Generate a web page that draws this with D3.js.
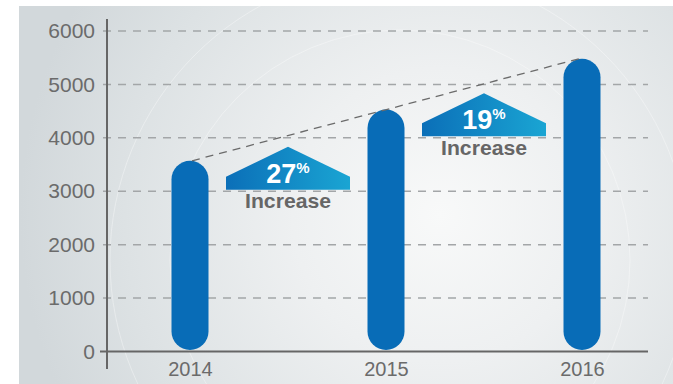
<!DOCTYPE html>
<html>
<head>
<meta charset="utf-8">
<script src="https://cdn.jsdelivr.net/npm/d3@7"></script>
<style>
  html, body { margin: 0; padding: 0; background: #fff; }
  svg { display: block; }
</style>
</head>
<body>
<div id="chart"></div>
<script>
// data
const years = ["2014", "2015", "2016"];
const values = [3570, 4530, 5480];
const yTicks = [0, 1000, 2000, 3000, 4000, 5000, 6000];
const increaseLabels = ["27", "19"];
const increaseBase = [3000, 4000];

const width = 673;
const height = 384;

const svg = d3.select("#chart")
    .append("svg")
    .attr("width", width)
    .attr("height", height);

const defs = svg.append("defs");

// background gradient
const bg = defs.append("radialGradient")
    .attr("id", "bg")
    .attr("gradientUnits", "userSpaceOnUse")
    .attr("cx", 440).attr("cy", 215).attr("r", 420);
bg.append("stop").attr("offset", 0).attr("stop-color", "#f8f9f9");
bg.append("stop").attr("offset", 0.35).attr("stop-color", "#eef0f1");
bg.append("stop").attr("offset", 0.75).attr("stop-color", "#dde2e4");
bg.append("stop").attr("offset", 1).attr("stop-color", "#d2d8db");

const arrowGrad = defs.append("linearGradient")
    .attr("id", "arrowGrad")
    .attr("x1", 0).attr("y1", 0).attr("x2", 1).attr("y2", 0);
arrowGrad.append("stop").attr("offset", 0).attr("stop-color", "#0b6fb8");
arrowGrad.append("stop").attr("offset", 1).attr("stop-color", "#1aa5d3");

svg.append("rect")
    .attr("x", 19).attr("y", 6)
    .attr("width", width - 19).attr("height", height - 6)
    .attr("fill", "url(#bg)");

// faint arcs in the background
svg.append("g")
    .attr("fill", "none")
    .attr("stroke", "#ffffff")
    .attr("stroke-opacity", 0.35)
    .selectAll("circle")
    .data([230, 290])
    .enter().append("circle")
    .attr("cx", 400).attr("cy", 260)
    .attr("r", d => d);

// scales
const x = d3.scalePoint()
    .domain(years)
    .range([190, 582]);

const y = d3.scaleLinear()
    .domain([0, 6000])
    .range([351.5, 31]);

// grid lines
svg.append("g")
    .selectAll("line")
    .data(yTicks.filter(d => d > 0))
    .enter().append("line")
    .attr("x1", 103)
    .attr("x2", 648)
    .attr("y1", d => y(d))
    .attr("y2", d => y(d))
    .attr("stroke", "#a3a6a8")
    .attr("stroke-width", 1.5)
    .attr("stroke-dasharray", "8,7");

// y axis labels
const yAxis = svg.append("g")
    .attr("transform", "translate(107,0)")
    .call(d3.axisLeft(y).tickValues(yTicks).tickFormat(d3.format("d")).tickSize(0).tickPadding(12));
yAxis.select(".domain").remove();
yAxis.selectAll("text")
    .attr("font-family", "Liberation Sans, Arial, sans-serif")
    .attr("font-size", 21)
    .attr("fill", "#6b6b6b");

// x axis labels
const xAxis = svg.append("g")
    .attr("transform", "translate(0,352)")
    .call(d3.axisBottom(x).tickSize(0).tickPadding(10));
xAxis.select(".domain").remove();
xAxis.selectAll("text")
    .attr("font-family", "Liberation Sans, Arial, sans-serif")
    .attr("font-size", 20)
    .attr("fill", "#6b6b6b");

// axis lines
svg.append("line")
    .attr("x1", 107).attr("x2", 107)
    .attr("y1", 19).attr("y2", 369)
    .attr("stroke", "#666").attr("stroke-width", 2);
svg.append("line")
    .attr("x1", 100).attr("x2", 648)
    .attr("y1", y(0)).attr("y2", y(0))
    .attr("stroke", "#666").attr("stroke-width", 2);

// bars (rounded)
const barW = 37;
svg.append("g")
    .selectAll("rect")
    .data(values)
    .enter().append("rect")
    .attr("x", (d, i) => x(years[i]) - barW / 2)
    .attr("y", d => y(d))
    .attr("width", barW)
    .attr("height", d => y(0) - y(d) - 1.5)
    .attr("rx", barW / 2)
    .attr("fill", "#086cb7");

// trend line
svg.append("line")
    .attr("x1", x(years[0]) + 2)
    .attr("y1", y(values[0]))
    .attr("x2", x(years[2]) - 3)
    .attr("y2", y(values[2]))
    .attr("stroke", "#6b6b6b")
    .attr("stroke-width", 1.3)
    .attr("stroke-dasharray", "8,6");

// increase arrows
const arrows = svg.append("g")
    .selectAll("g")
    .data(increaseLabels)
    .enter().append("g")
    .attr("transform", (d, i) => {
        const cx = (x(years[i]) + x(years[i + 1])) / 2;
        return `translate(${cx},${y(increaseBase[i]) - 1.5})`;
    });

arrows.append("polygon")
    .attr("points", "-62,0 62,0 62,-13 0,-43 -62,-13")
    .attr("fill", "url(#arrowGrad)");

const pct = arrows.append("text")
    .attr("y", -7)
    .attr("text-anchor", "middle")
    .attr("font-family", "Liberation Sans, Arial, sans-serif")
    .attr("font-weight", "bold")
    .attr("fill", "#fff");
pct.append("tspan")
    .attr("font-size", 27)
    .text(d => d);
pct.append("tspan")
    .attr("font-size", 15)
    .attr("dy", -10)
    .text("%");

arrows.append("text")
    .attr("y", 18.5)
    .attr("text-anchor", "middle")
    .attr("font-family", "Liberation Sans Narrow, Liberation Sans, Arial, sans-serif")
    .attr("font-weight", "bold")
    .attr("font-size", 21)
    .attr("textLength", 86)
    .attr("lengthAdjust", "spacingAndGlyphs")
    .attr("fill", "#666")
    .text("Increase");
</script>
</body>
</html>
